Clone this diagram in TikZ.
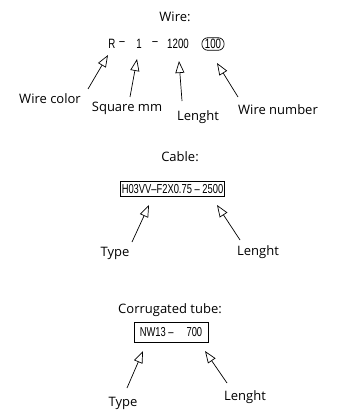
\documentclass[tikz,border=0pt]{standalone}
\usepackage{fontspec}
\setmainfont{Open Sans}
\newfontfamily\codefont[FakeStretch=0.72]{Liberation Sans}
\usetikzlibrary{arrows.meta}
\tikzset{
  lbl/.style={font=\fontsize{13}{15}\selectfont, inner sep=0pt},
  code/.style={font=\codefont\fontsize{13.5}{15}\selectfont, inner sep=0pt},
  ptr/.style={-{Triangle[open,length=12pt,width=9pt]}, line width=0.7pt},
  frame/.style={draw, line width=0.7pt, inner xsep=1.5pt, inner ysep=3pt, font=\codefont\fontsize{13}{15}\selectfont}
}
\begin{document}
\begin{tikzpicture}[x=1pt,y=-1pt]
\useasboundingbox (0,0) rectangle (350,417);
% Wire
\node[lbl] (wt) at (175,17) {Wire:};
\node[code] (r) at (112,44) {R};
\node[code] (d1) at (122,44) {–};
\node[code] (one) at (139,44) {1};
\node[code] (d2) at (155,44) {–};
\node[code] (len) at (178,44) {1200};
\node[code, draw, line width=0.7pt, rounded corners=6pt, inner xsep=3pt, inner ysep=1.5pt] (num) at (213,44) {100};
\node[lbl] (wc) at (50,99) {Wire color};
\node[lbl] (sq) at (127,108) {Square mm};
\node[lbl] (wl) at (198,117) {Lenght};
\node[lbl] (wn) at (278,110) {Wire number};
\coordinate (a1t) at (88,89);  \coordinate (a1h) at (108,55);
\coordinate (a2t) at (130,97); \coordinate (a2h) at (137,59);
\coordinate (a3t) at (182,101); \coordinate (a3h) at (179,61);
\coordinate (a4t) at (238,97); \coordinate (a4h) at (217,63);
\draw[ptr] (a1t) -- (a1h);
\draw[ptr] (a2t) -- (a2h);
\draw[ptr] (a3t) -- (a3h);
\draw[ptr] (a4t) -- (a4h);
% Cable
\node[lbl] (ct) at (180,157) {Cable:};
\node[frame] (cb) at (172.5,189) {H03VV–F2X0.75 – 2500};
\node[lbl] (ctype) at (115,253) {Type};
\node[lbl] (clen) at (258,252) {Lenght};
\coordinate (b1t) at (132,242); \coordinate (b1h) at (149,205);
\coordinate (b2t) at (240,240); \coordinate (b2h) at (217,205);
\draw[ptr] (b1t) -- (b1h);
\draw[ptr] (b2t) -- (b2h);
% Corrugated tube
\node[lbl] (tt) at (170,310) {Corrugated tube:};
\node[frame, minimum width=74pt, minimum height=20pt] (tb) at (171,332) {NW13 –\hspace{13pt}700};
\node[lbl] (ttype) at (123,403) {Type};
\node[lbl] (tlen) at (245,397) {Lenght};
\coordinate (c1t) at (127,388); \coordinate (c1h) at (143,351);
\coordinate (c2t) at (227,383); \coordinate (c2h) at (205,351);
\draw[ptr] (c1t) -- (c1h);
\draw[ptr] (c2t) -- (c2h);
\end{tikzpicture}
\end{document}
